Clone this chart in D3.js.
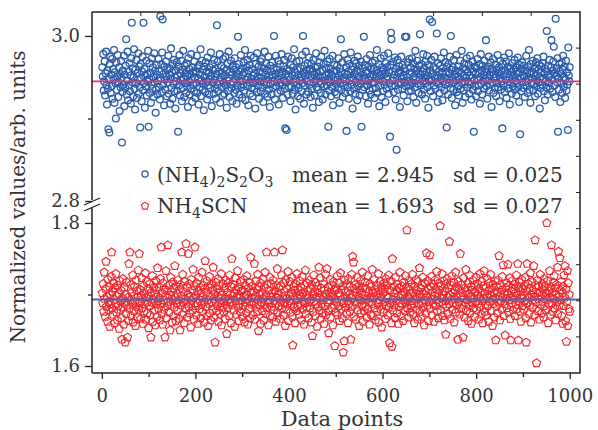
<!doctype html>
<html>
<head>
<meta charset="utf-8"/>
<style>
  body { margin: 0; background: #fff; }
  text { font-family: "DejaVu Serif", serif; fill: #333; }
</style>
<script src="https://d3js.org/d3.v7.min.js"></script>
</head>
<body>
<svg width="598" height="430"></svg>
<script>
// (NH4)2S2O3, normalized values, points 1..1000
var thioValues = [
2.962,2.951,2.978,2.934,2.945,2.969,2.928,2.955,2.981,2.940,2.917,2.958,2.936,2.887,2.948,2.883,2.966,2.975,2.931,2.953,
2.939,2.972,2.924,2.960,2.947,2.983,2.919,2.956,2.943,2.900,2.968,2.935,2.951,2.977,2.926,2.944,2.962,2.909,2.954,2.938,
2.970,2.949,2.871,2.932,2.958,2.941,2.976,2.915,2.953,2.937,2.964,2.996,2.929,2.946,2.981,2.922,2.957,2.940,2.967,2.933,
2.952,2.918,2.973,3.016,2.944,2.961,2.927,2.950,2.984,2.936,2.911,2.959,2.942,2.971,2.925,2.955,2.947,2.979,2.930,2.963,
2.938,2.889,2.966,2.949,2.921,2.957,2.975,2.934,3.016,2.943,2.960,2.913,2.952,2.939,2.970,2.928,2.954,2.945,2.982,2.890,
2.948,2.967,2.931,2.955,2.919,2.941,2.973,2.936,2.962,2.950,2.926,2.979,2.944,2.958,2.907,2.935,2.965,2.953,2.929,2.946,
2.972,2.938,2.957,2.923,3.024,2.949,2.966,2.932,2.980,3.020,2.941,2.954,2.916,2.963,2.947,2.935,2.969,2.951,2.927,2.959,
2.944,2.976,2.930,2.953,2.961,2.918,2.948,2.985,2.937,2.956,2.924,2.966,2.942,2.971,2.933,2.950,2.912,2.958,2.945,2.968,
2.934,2.952,2.884,2.963,2.940,2.977,2.928,2.955,2.946,2.970,2.921,2.959,2.937,2.982,2.949,2.926,2.964,2.943,2.955,2.931,
2.967,2.939,2.951,2.914,2.973,2.945,2.960,2.929,2.954,2.936,2.978,2.947,2.920,2.962,2.941,2.957,2.933,2.969,2.950,2.925,
2.956,2.943,2.976,2.931,2.961,2.948,2.917,2.965,2.938,2.953,2.984,2.927,2.946,2.970,2.935,2.959,2.942,2.910,2.963,2.951,
2.932,2.968,2.945,2.957,2.923,2.974,2.940,2.955,2.929,2.962,2.948,2.937,2.980,2.952,2.915,2.966,2.944,2.958,2.930,2.971,
2.947,2.936,2.960,2.924,2.954,3.013,2.941,2.969,2.933,2.957,2.945,2.978,2.919,2.950,2.964,2.938,2.955,2.928,2.972,2.943,
2.961,2.930,2.952,2.975,2.940,2.958,2.913,2.946,2.967,2.934,2.981,2.949,2.926,2.956,2.942,2.970,2.937,2.953,2.921,2.964,
2.944,2.959,2.931,2.973,2.948,2.935,2.962,2.918,2.954,2.940,2.999,2.951,2.966,2.929,2.957,2.945,2.977,2.938,2.960,2.925,
2.953,2.941,2.968,2.934,2.956,2.983,2.922,2.947,2.962,2.939,2.971,2.950,2.916,2.958,2.944,2.965,2.930,2.976,2.948,2.937,
2.960,2.927,2.952,2.943,2.974,2.936,2.955,2.912,2.966,2.946,2.932,2.979,2.951,2.940,2.963,2.924,2.957,2.945,2.969,2.933,
2.949,2.972,2.938,2.956,2.920,2.961,2.944,2.981,2.930,2.953,2.967,2.941,2.958,2.926,2.947,2.975,2.935,2.952,2.914,2.964,
2.942,2.957,2.929,2.968,2.950,2.937,2.961,3.000,2.945,2.923,2.954,2.976,2.939,2.959,2.931,2.948,2.970,2.917,2.955,2.943,
2.966,2.934,2.952,2.978,2.940,2.957,2.925,2.963,2.946,2.971,2.936,2.888,2.954,2.944,2.886,2.960,2.929,2.975,2.950,2.938,
2.958,2.947,2.921,2.965,2.939,2.973,2.952,2.930,2.962,2.944,2.984,2.935,2.956,2.911,2.948,2.969,2.941,2.959,2.927,2.953,
2.937,2.970,2.946,2.924,2.961,2.950,2.933,2.977,2.943,3.000,2.955,2.918,2.964,2.940,2.952,2.981,2.929,2.958,2.945,2.967,
2.932,2.954,2.974,2.941,2.960,2.926,2.949,2.966,2.936,2.957,2.913,2.971,2.944,2.953,2.928,2.962,2.947,2.979,2.938,2.956,
2.963,2.935,2.951,2.920,2.968,2.945,2.957,2.931,2.975,2.942,2.959,2.923,2.950,2.966,2.939,2.982,2.946,2.929,2.961,2.952,
2.940,2.969,2.948,2.890,2.955,2.934,2.972,2.944,2.960,2.927,2.953,2.938,2.976,2.916,2.957,2.946,2.965,2.932,2.950,2.942,
2.958,2.929,2.964,2.947,2.937,2.973,2.952,2.919,2.961,2.943,2.996,2.935,2.956,2.968,2.926,2.949,2.940,2.978,2.954,2.931,
2.945,2.962,2.885,2.953,2.971,2.938,2.957,2.924,2.966,2.946,2.933,2.980,2.950,2.941,2.959,2.912,2.963,2.948,2.936,2.970,
2.954,2.930,2.967,2.944,2.958,2.922,2.975,2.939,2.951,2.964,2.928,2.956,2.942,2.969,2.890,2.947,2.935,2.961,2.952,2.999,
2.938,2.965,2.949,2.927,2.957,2.972,2.940,2.955,2.918,2.963,2.946,2.934,2.977,2.951,2.929,2.960,2.943,2.968,2.936,2.953,
2.961,2.944,2.925,2.970,2.950,2.937,2.958,2.983,2.931,2.955,2.947,2.966,2.915,2.952,2.940,2.973,2.957,2.926,2.962,2.945,
2.933,2.959,2.976,2.941,2.954,2.920,2.967,2.948,2.936,2.962,2.951,2.979,2.930,2.956,2.943,2.878,2.965,3.004,2.996,2.939,
2.957,2.946,2.969,2.932,2.953,2.974,2.940,2.923,2.960,2.862,2.949,2.971,2.935,2.955,2.944,2.963,2.914,2.958,2.942,2.975,
2.948,2.936,2.965,2.952,2.928,2.961,2.944,2.999,2.957,2.939,2.999,2.950,2.921,2.968,2.945,2.933,2.972,2.954,2.940,2.962,
2.934,2.956,2.973,2.943,2.967,2.926,2.951,2.960,2.938,2.982,2.947,2.919,2.958,2.970,2.942,2.955,2.931,2.964,2.949,3.002,
2.953,2.940,2.966,2.929,2.957,2.945,2.978,2.935,2.961,2.950,2.924,2.969,2.943,2.956,2.976,2.938,2.952,2.913,2.965,2.947,
3.020,2.958,2.933,2.971,2.946,3.017,2.954,2.927,2.962,2.940,2.975,2.949,2.936,2.960,2.944,3.003,2.952,2.920,2.967,2.942,
2.957,2.931,2.964,2.948,2.973,2.938,2.955,2.922,2.961,2.945,2.980,2.934,2.950,2.968,2.941,2.956,2.889,2.963,2.947,2.929,
2.966,2.943,2.954,2.975,2.937,3.000,2.959,2.925,2.949,2.962,2.935,2.971,2.944,2.953,2.916,2.958,2.946,2.977,2.932,2.951,
2.940,2.963,2.928,2.957,2.948,2.970,2.936,2.955,2.982,2.943,2.919,2.961,2.952,2.934,2.967,2.945,2.926,2.959,2.950,2.973,
2.938,2.956,2.944,2.965,2.930,2.952,2.976,2.941,2.960,2.923,2.949,2.969,2.935,2.957,2.884,2.946,2.963,2.939,2.954,2.927,
2.961,2.947,2.972,2.933,2.955,2.940,2.966,2.918,2.950,2.978,2.942,2.958,2.929,2.964,2.945,2.953,2.936,2.970,2.948,2.960,
2.995,2.939,2.957,2.924,2.963,2.946,2.975,2.934,2.952,2.941,2.968,2.956,2.914,2.960,2.944,2.972,2.931,2.954,2.949,2.937,
2.965,2.950,2.927,2.959,2.943,2.977,2.938,2.955,2.962,2.921,2.948,2.970,2.935,2.957,2.945,2.888,2.966,2.940,2.953,2.974,
2.932,2.958,2.947,2.969,2.925,2.954,2.941,2.963,2.936,2.979,2.950,2.917,2.961,2.944,2.956,2.930,2.967,2.948,2.939,2.959,
2.952,2.971,2.935,2.946,2.962,2.928,2.957,2.943,2.974,2.938,2.955,2.920,2.965,2.881,2.949,2.960,2.933,2.968,2.944,2.953,
2.937,2.964,2.951,2.926,2.958,2.945,2.976,2.940,2.956,2.931,2.962,2.948,2.983,2.935,2.954,2.919,2.966,2.943,2.957,2.949,
2.970,2.934,2.955,2.942,2.961,2.927,2.952,2.968,2.939,2.946,2.973,2.930,2.959,2.944,2.965,2.912,2.950,2.937,2.963,2.956,
2.941,2.967,2.948,2.975,2.933,2.954,2.922,2.960,2.945,2.938,3.006,2.957,2.929,2.964,2.950,2.943,2.971,2.936,2.953,2.962,
2.995,2.947,2.932,2.958,2.969,2.987,2.940,2.955,2.926,3.021,2.952,2.961,2.944,2.973,2.884,2.949,2.935,2.966,2.957,2.920,
2.954,2.943,2.968,2.931,2.959,2.976,2.938,2.950,2.963,2.925,2.947,2.970,2.934,2.956,2.941,2.886,2.986,2.952,2.945,2.962
];

// NH4SCN, normalized values, points 1..1000
var scnValues = [
1.702,1.688,1.715,1.676,1.731,1.694,1.669,1.708,1.746,1.683,1.697,1.662,1.721,1.690,1.678,1.711,1.655,1.699,1.686,1.725,
1.759,1.681,1.704,1.672,1.716,1.693,1.660,1.709,1.687,1.729,1.675,1.698,1.664,1.713,1.684,1.701,1.652,1.719,1.691,1.679,
1.706,1.667,1.637,1.695,1.722,1.682,1.658,1.710,1.689,1.633,1.700,1.673,1.717,1.685,1.640,1.696,1.663,1.743,1.680,1.759,
1.692,1.714,1.670,1.703,1.686,1.727,1.661,1.698,1.677,1.711,1.690,1.656,1.720,1.683,1.705,1.668,1.697,1.734,1.679,1.757,
1.688,1.707,1.666,1.699,1.723,1.681,1.694,1.659,1.712,1.676,1.701,1.687,1.730,1.665,1.696,1.718,1.674,1.690,1.708,1.653,
1.697,1.684,1.715,1.671,1.640,1.703,1.689,1.726,1.662,1.693,1.710,1.678,1.700,1.657,1.719,1.686,1.706,1.669,1.737,1.691,
1.680,1.711,1.695,1.664,1.722,1.687,1.766,1.673,1.702,1.658,1.716,1.692,1.679,1.708,1.640,1.698,1.733,1.667,1.705,1.684,
1.769,1.690,1.713,1.675,1.699,1.650,1.724,1.686,1.704,1.661,1.717,1.693,1.670,1.709,1.682,1.740,1.696,1.663,1.712,1.688,
1.701,1.677,1.720,1.692,1.666,1.707,1.650,1.714,1.685,1.698,1.759,1.672,1.728,1.689,1.704,1.660,1.718,1.694,1.681,1.771,
1.687,1.710,1.668,1.700,1.757,1.683,1.715,1.674,1.697,1.654,1.721,1.691,1.706,1.678,1.735,1.695,1.665,1.712,1.766,1.684,
1.699,1.671,1.716,1.688,1.705,1.659,1.724,1.693,1.680,1.710,1.667,1.702,1.686,1.731,1.676,1.697,1.713,1.661,1.690,1.708,
1.747,1.683,1.703,1.670,1.719,1.692,1.656,1.711,1.687,1.725,1.674,1.698,1.664,1.714,1.689,1.706,1.679,1.738,1.694,1.668,
1.701,1.633,1.690,1.717,1.677,1.708,1.684,1.722,1.662,1.696,1.712,1.673,1.704,1.688,1.729,1.657,1.699,1.682,1.715,1.691,
1.675,1.709,1.694,1.666,1.720,1.686,1.645,1.703,1.681,1.716,1.693,1.670,1.727,1.689,1.700,1.660,1.711,1.750,1.685,1.698,
1.714,1.678,1.702,1.655,1.723,1.691,1.707,1.672,1.696,1.733,1.683,1.710,1.663,1.699,1.687,1.718,1.676,1.705,1.692,1.669,
1.706,1.684,1.721,1.697,1.661,1.713,1.689,1.700,1.674,1.726,1.694,1.658,1.709,1.680,1.717,1.690,1.667,1.752,1.703,1.686,
1.695,1.712,1.671,1.704,1.688,1.743,1.665,1.698,1.719,1.682,1.707,1.676,1.728,1.693,1.649,1.711,1.685,1.700,1.659,1.716,
1.689,1.703,1.677,1.722,1.694,1.664,1.710,1.686,1.731,1.673,1.699,1.759,1.681,1.714,1.692,1.657,1.706,1.688,1.724,1.670,
1.698,1.715,1.683,1.702,1.668,1.720,1.691,1.678,1.759,1.705,1.687,1.662,1.713,1.696,1.736,1.674,1.700,1.684,1.709,1.693,
1.666,1.712,1.690,1.727,1.680,1.762,1.697,1.671,1.716,1.688,1.704,1.656,1.721,1.694,1.679,1.708,1.686,1.732,1.663,1.700,
1.691,1.718,1.675,1.703,1.687,1.724,1.669,1.629,1.698,1.711,1.682,1.706,1.660,1.715,1.692,1.677,1.729,1.695,1.684,1.707,
1.672,1.700,1.719,1.685,1.710,1.664,1.696,1.725,1.679,1.703,1.690,1.658,1.713,1.688,1.734,1.673,1.699,1.682,1.716,1.694,
1.705,1.667,1.689,1.720,1.681,1.708,1.693,1.661,1.714,1.642,1.701,1.676,1.727,1.690,1.704,1.670,1.717,1.686,1.697,1.655,
1.712,1.683,1.702,1.738,1.678,1.695,1.723,1.666,1.709,1.687,1.698,1.674,1.715,1.692,1.659,1.706,1.684,1.728,1.671,1.700,
1.736,1.689,1.710,1.677,1.646,1.703,1.692,1.721,1.668,1.697,1.713,1.681,1.700,1.657,1.718,1.686,1.706,1.628,1.694,1.675,
1.709,1.690,1.726,1.671,1.702,1.684,1.716,1.663,1.698,1.730,1.679,1.707,1.693,1.667,1.712,1.619,1.688,1.635,1.720,1.696,
1.682,1.704,1.673,1.715,1.691,1.660,1.722,1.687,1.700,1.676,1.711,1.637,1.695,1.728,1.683,1.753,1.699,1.745,1.669,1.708,
1.690,1.714,1.665,1.703,1.686,1.724,1.678,1.697,1.712,1.656,1.706,1.692,1.719,1.674,1.701,1.685,1.731,1.662,1.709,1.694,
1.677,1.699,1.717,1.683,1.708,1.668,1.693,1.726,1.680,1.704,1.689,1.658,1.715,1.696,1.672,1.711,1.687,1.735,1.670,1.702,
1.695,1.721,1.681,1.707,1.664,1.698,1.713,1.676,1.700,1.688,1.729,1.661,1.705,1.692,1.718,1.679,1.697,1.654,1.710,1.686,
1.703,1.675,1.716,1.690,1.708,1.666,1.722,1.684,1.699,1.713,1.671,1.695,1.727,1.682,1.632,1.706,1.688,1.719,1.660,1.627,
1.750,1.693,1.678,1.711,1.685,1.702,1.667,1.724,1.691,1.706,1.674,1.714,1.697,1.659,1.709,1.683,1.731,1.688,1.700,1.670,
1.712,1.686,1.699,1.663,1.717,1.692,1.704,1.677,1.726,1.689,1.710,1.790,1.681,1.696,1.668,1.720,1.694,1.707,1.675,1.701,
1.684,1.715,1.691,1.728,1.672,1.703,1.687,1.660,1.711,1.698,1.679,1.721,1.693,1.706,1.665,1.718,1.686,1.700,1.737,1.676,
1.696,1.709,1.669,1.713,1.688,1.724,1.682,1.701,1.657,1.716,1.692,1.705,1.674,1.758,1.698,1.685,1.719,1.663,1.707,1.690,
1.755,1.680,1.711,1.694,1.725,1.671,1.703,1.687,1.714,1.662,1.698,1.720,1.684,1.708,1.692,1.732,1.676,1.701,1.667,1.716,
1.689,1.706,1.796,1.678,1.712,1.695,1.729,1.670,1.700,1.686,1.719,1.664,1.704,1.691,1.644,1.715,1.683,1.722,1.697,1.673,
1.709,1.687,1.774,1.699,1.666,1.713,1.693,1.726,1.679,1.702,1.688,1.717,1.661,1.706,1.694,1.731,1.675,1.711,1.685,1.700,
1.637,1.718,1.690,1.707,1.672,1.757,1.697,1.680,1.714,1.686,1.702,1.640,1.723,1.694,1.668,1.709,1.689,1.735,1.677,1.704,
1.692,1.716,1.663,1.701,1.685,1.727,1.674,1.698,1.711,1.659,1.706,1.688,1.720,1.681,1.695,1.713,1.669,1.703,1.690,1.724,
1.678,1.700,1.715,1.687,1.708,1.665,1.696,1.729,1.683,1.704,1.672,1.718,1.691,1.660,1.712,1.694,1.733,1.676,1.701,1.686,
1.710,1.671,1.697,1.722,1.684,1.705,1.662,1.716,1.690,1.699,1.728,1.677,1.708,1.693,1.656,1.714,1.687,1.702,1.668,1.719,
1.695,1.636,1.711,1.683,1.703,1.674,1.720,1.689,1.754,1.698,1.664,1.713,1.691,1.706,1.679,1.725,1.696,1.741,1.670,1.701,
1.687,1.643,1.709,1.694,1.716,1.681,1.700,1.742,1.675,1.712,1.692,1.723,1.666,1.636,1.705,1.688,1.719,1.697,1.678,1.707,
1.693,1.714,1.670,1.702,1.686,1.727,1.680,1.699,1.743,1.636,1.710,1.690,1.717,1.676,1.704,1.662,1.721,1.695,1.684,1.708,
1.699,1.679,1.712,1.691,1.724,1.667,1.633,1.705,1.743,1.688,1.715,1.696,1.673,1.709,1.685,1.730,1.661,1.700,1.718,1.692,
1.682,1.706,1.740,1.697,1.671,1.776,1.713,1.689,1.604,1.702,1.720,1.677,1.694,1.711,1.665,1.703,1.728,1.686,1.699,1.674,
1.715,1.690,1.707,1.668,1.722,1.684,1.698,1.712,1.678,1.701,1.800,1.693,1.719,1.660,1.705,1.687,1.733,1.696,1.672,1.710,
1.769,1.688,1.703,1.676,1.717,1.694,1.726,1.681,1.709,1.664,1.700,1.714,1.690,1.738,1.673,1.760,1.697,1.685,1.751,1.706,
1.692,1.718,1.670,1.702,1.659,1.711,1.684,1.727,1.696,1.740,1.663,1.707,1.634,1.690,1.733,1.656,1.716,1.680,1.700,1.676
];

var means = [2.945, 1.693];
var sds = [0.025, 0.027];
var xTicks = [0, 200, 400, 600, 800, 1000];
var xMinorTicks = [100, 300, 500, 700, 900];
var topTicks = [2.8, 3.0], topMinorTicks = [2.9];
var botTicks = [1.6, 1.8], botMinorTicks = [1.7];

var svg = d3.select("svg");
var blue = "#2b5cab", red = "#ee2a2f";
// plot box (note: "top" is reserved on window, so use other names)
var boxL = 92, boxR = 580, boxT = 12, boxB = 373;

var x = d3.scaleLinear().domain([-21, 1022]).range([boxL, boxR]);
var yTop = d3.scaleLinear().domain([2.8, 3.0]).range([201, 36]);
var yBot = d3.scaleLinear().domain([1.6, 1.8]).range([366, 223]);
// box ticks on top / right edges (plain 10 divisions)
var frameX = d3.scaleLinear().domain([0, 10]).range([boxL, boxR]);
var frameY = d3.scaleLinear().domain([0, 10]).range([boxB, boxT]);

function pentagon(r) {
    var pts = d3.range(5).map(function(k) {
        var a = -Math.PI / 2 + k * 2 * Math.PI / 5;
        return [r * Math.cos(a), r * Math.sin(a)];
    });
    return "M" + pts.join("L") + "Z";
}

// points
svg.append("g").selectAll("circle")
    .data(thioValues)
    .join("circle")
    .attr("cx", function(d, i) { return x(i + 1); })
    .attr("cy", function(d) { return yTop(d); })
    .attr("r", 3.4)
    .attr("fill", "none")
    .attr("stroke", blue)
    .attr("stroke-width", 1.3);

svg.append("g").selectAll("path")
    .data(scnValues)
    .join("path")
    .attr("d", pentagon(4.3))
    .attr("transform", function(d, i) { return "translate(" + x(i + 1) + "," + yBot(d) + ")"; })
    .attr("fill", "none")
    .attr("stroke", red)
    .attr("stroke-width", 1.15);

// mean lines
svg.append("line")
    .attr("x1", boxL).attr("x2", boxR)
    .attr("y1", yTop(means[0])).attr("y2", yTop(means[0]))
    .attr("stroke", "#e8336f").attr("stroke-width", 1.7);
svg.append("line")
    .attr("x1", boxL).attr("x2", boxR)
    .attr("y1", yBot(means[1])).attr("y2", yBot(means[1]))
    .attr("stroke", "#3d6cc0").attr("stroke-width", 1.8);

// frame
var axisColor = "#222";
svg.append("path")
    .attr("d", "M" + boxL + "," + boxT + "H" + boxR + "V" + boxB + "H" + boxL)
    .attr("fill", "none").attr("stroke", axisColor).attr("stroke-width", 1.5);
svg.append("path")
    .attr("d", "M" + boxL + "," + boxT + "V200M" + boxL + ",208V" + boxB)
    .attr("fill", "none").attr("stroke", axisColor).attr("stroke-width", 1.5);
// break marks
svg.append("path")
    .attr("d", "M84,205L100,198M84,211L100,204")
    .attr("fill", "none").attr("stroke", axisColor).attr("stroke-width", 1.3);

svg.append("g").selectAll("line")
    .data(d3.range(1, 10))
    .join("line")
    .attr("x1", function(d) { return frameX(d); }).attr("x2", function(d) { return frameX(d); })
    .attr("y1", boxT).attr("y2", boxT + 4)
    .attr("stroke", axisColor).attr("stroke-width", 1);
svg.append("g").selectAll("line")
    .data(d3.range(1, 10))
    .join("line")
    .attr("y1", function(d) { return frameY(d); }).attr("y2", function(d) { return frameY(d); })
    .attr("x1", boxR).attr("x2", boxR - 4)
    .attr("stroke", axisColor).attr("stroke-width", 1);

function styleAxis(g) {
    g.select(".domain").remove();
    g.selectAll(".tick line").attr("stroke", axisColor).attr("stroke-width", 1.3);
    g.selectAll(".tick text").attr("font-family", "DejaVu Serif").attr("font-size", 18).attr("fill", "#333");
}

svg.append("g").attr("transform", "translate(0," + boxB + ")")
    .call(d3.axisBottom(x).tickValues(xTicks).tickFormat(d3.format("d")).tickSize(6).tickPadding(10))
    .call(styleAxis);
svg.append("g").attr("transform", "translate(0," + boxB + ")")
    .call(d3.axisBottom(x).tickValues(xMinorTicks).tickFormat("").tickSize(4))
    .call(styleAxis);

svg.append("g").attr("transform", "translate(" + boxL + ",0)")
    .call(d3.axisLeft(yTop).tickValues(topTicks).tickFormat(d3.format(".1f")).tickSize(7).tickPadding(5))
    .call(styleAxis);
svg.append("g").attr("transform", "translate(" + boxL + ",0)")
    .call(d3.axisLeft(yTop).tickValues(topMinorTicks).tickFormat("").tickSize(4))
    .call(styleAxis);
svg.append("g").attr("transform", "translate(" + boxL + ",0)")
    .call(d3.axisLeft(yBot).tickValues(botTicks).tickFormat(d3.format(".1f")).tickSize(7).tickPadding(5))
    .call(styleAxis);
svg.append("g").attr("transform", "translate(" + boxL + ",0)")
    .call(d3.axisLeft(yBot).tickValues(botMinorTicks).tickFormat("").tickSize(4))
    .call(styleAxis);

// axis titles
svg.append("text")
    .attr("x", 342).attr("y", 426)
    .attr("text-anchor", "middle")
    .attr("font-size", 21)
    .text("Data points");
svg.append("text")
    .attr("transform", "translate(25,197) rotate(-90)")
    .attr("text-anchor", "middle")
    .attr("font-size", 20)
    .text("Normalized values/arb. units");

// legend
var legendNames = [
    [["(NH", 0], ["4", 1], [")", 0], ["2", 1], ["S", 0], ["2", 1], ["O", 0], ["3", 1]],
    [["NH", 0], ["4", 1], ["SCN", 0]]
];
var legendY = [182, 213];

function addRich(sel, parts) {
    var shifted = false;
    parts.forEach(function(p) {
        var t = sel.append("tspan").text(p[0]);
        if (p[1] && !shifted) { t.attr("dy", 5).attr("font-size", 14); shifted = true; }
        else if (p[1]) { t.attr("font-size", 14); }
        else if (shifted) { t.attr("dy", -5); shifted = false; }
    });
}

legendNames.forEach(function(parts, i) {
    var yb = legendY[i];
    if (i === 0) {
        svg.append("circle").attr("cx", 145).attr("cy", yb - 8).attr("r", 3.1)
            .attr("fill", "none").attr("stroke", blue).attr("stroke-width", 1.2);
    } else {
        svg.append("path").attr("d", pentagon(3.9))
            .attr("transform", "translate(145," + (yb - 7) + ")")
            .attr("fill", "none").attr("stroke", red).attr("stroke-width", 1.1);
    }
    var t = svg.append("text").attr("x", 157).attr("y", yb).attr("font-size", 20);
    addRich(t, parts);
    svg.append("text").attr("x", 292).attr("y", yb).attr("font-size", 20)
        .text("mean = " + means[i].toFixed(3));
    svg.append("text").attr("x", 453).attr("y", yb).attr("font-size", 20)
        .text("sd = " + sds[i].toFixed(3));
});
</script>
</body>
</html>
